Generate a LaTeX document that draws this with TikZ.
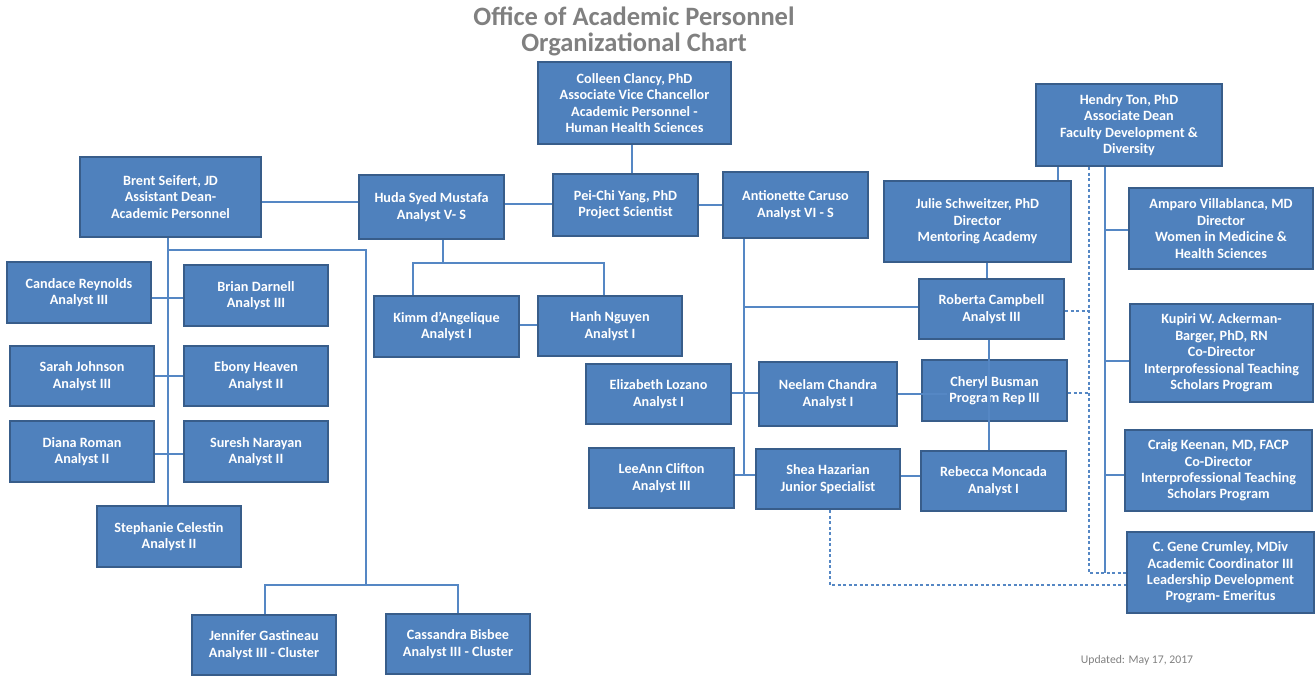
\documentclass[tikz,border=0pt]{standalone}
\usepackage{fontspec}
\setmainfont{Carlito}
\usetikzlibrary{backgrounds}
\definecolor{boxfill}{HTML}{4F81BD}
\definecolor{boxline}{HTML}{385D8A}
\definecolor{conncol}{HTML}{5587C4}
\definecolor{titlegray}{HTML}{808080}
\tikzset{
  box/.style={draw=boxline, line width=2.2pt, fill=boxfill, text=white,
    font=\bfseries\fontsize{14.2}{16.4}\selectfont, align=center, inner sep=0pt, rectangle},
  conn/.style={draw=conncol, line width=1.2pt},
  dconn/.style={conn, dash pattern=on 3pt off 2.5pt},
  titletext/.style={text=titlegray, font=\bfseries\fontsize{26.5}{30}\selectfont, inner sep=0pt},
  foottext/.style={text=titlegray, font=\fontsize{11.7}{14}\selectfont, inner sep=0pt},
}
\newcommand\ocbox[6]{\node[box, minimum width=#4pt, minimum height=#5pt] (#1) at (#2,#3) {#6};}
\begin{document}
\begin{tikzpicture}[x=1pt,y=-1pt]
\useasboundingbox (0,0) rectangle (1315,676);
\node[titletext] (t1) at (634,16) {Office of Academic Personnel};
\node[titletext] (t2) at (634,44) {Organizational Chart};
\node[foottext] (upd) at (1137,660) {Updated: May 17, 2017};

\ocbox{colleen}{634.5}{103}{193}{82}{Colleen Clancy, PhD\\Associate Vice Chancellor\\Academic Personnel -\\Human Health Sciences}
\ocbox{hendry}{1129}{125}{186}{82}{Hendry Ton, PhD\\Associate Dean\\Faculty Development \&\\Diversity}
\ocbox{brent}{170.5}{197}{181}{80}{Brent Seifert, JD\\Assistant Dean-\\Academic Personnel}
\ocbox{huda}{431.5}{207}{145}{64}{Huda Syed Mustafa\\Analyst V- S}
\ocbox{pei}{625.5}{205}{145}{62}{Pei-Chi Yang, PhD\\Project Scientist}
\ocbox{anto}{795.5}{205}{145}{66}{Antionette Caruso\\Analyst VI - S}
\ocbox{julie}{977.5}{221.5}{187}{81}{Julie Schweitzer, PhD\\Director\\Mentoring Academy}
\ocbox{amparo}{1221}{228.5}{184}{81}{Amparo Villablanca, MD\\Director\\Women in Medicine \&\\Health Sciences}
\ocbox{candace}{79}{292.5}{144}{61}{Candace Reynolds\\Analyst III}
\ocbox{brian}{256}{295.5}{144}{61}{Brian Darnell\\Analyst III}
\ocbox{kimm}{446.5}{326.5}{145}{61}{Kimm d’Angelique\\Analyst I}
\ocbox{hanh}{610}{326}{144}{60}{Hanh Nguyen\\Analyst I}
\ocbox{roberta}{991.5}{309}{145}{60}{Roberta Campbell\\Analyst III}
\ocbox{kupiri}{1221.5}{353}{183}{98}{Kupiri W. Ackerman-\\Barger, PhD, RN\\Co-Director\\Interprofessional Teaching\\Scholars Program}
\ocbox{sarah}{82}{376}{144}{60}{Sarah Johnson\\Analyst III}
\ocbox{ebony}{256}{376}{144}{60}{Ebony Heaven\\Analyst II}
\ocbox{eliz}{658.5}{394}{145}{60}{Elizabeth Lozano\\Analyst I}
\ocbox{neelam}{828}{394}{138}{64}{Neelam Chandra\\Analyst I}
\ocbox{cheryl}{994.5}{390.5}{145}{61}{Cheryl Busman\\Program Rep III}
\ocbox{diana}{82}{451.5}{144}{61}{Diana Roman\\Analyst II}
\ocbox{suresh}{256}{451.5}{144}{61}{Suresh Narayan\\Analyst II}
\ocbox{craig}{1218.5}{470.5}{187}{81}{Craig Keenan, MD, FACP\\Co-Director\\Interprofessional Teaching\\Scholars Program}
\ocbox{leeann}{661.5}{478}{145}{60}{LeeAnn Clifton\\Analyst III}
\ocbox{shea}{828}{479}{144}{60}{Shea Hazarian\\Junior Specialist}
\ocbox{rebecca}{993.5}{481}{145}{60}{Rebecca Moncada\\Analyst I}
\ocbox{steph}{169}{536.5}{144}{61}{Stephanie Celestin\\Analyst II}
\ocbox{gene}{1220.5}{572.5}{187}{81}{C. Gene Crumley, MDiv\\Academic Coordinator III\\Leadership Development\\Program- Emeritus}
\ocbox{jenn}{264}{645}{144}{60}{Jennifer Gastineau\\Analyst III - Cluster}
\ocbox{cass}{458}{644}{144}{60}{Cassandra Bisbee\\Analyst III - Cluster}

\coordinate (hj) at (443,263);
\coordinate (bs) at (168,250);
\coordinate (bj) at (366,585);
\coordinate (aj) at (744,475);
\coordinate (hv) at (1105,573);
\coordinate (hd) at (1089,573);
\coordinate (cj) at (947,394);

\begin{pgfonlayer}{background}
% centre top
\draw[conn] (colleen.south -| 632,0) -- (pei.north -| 632,0);
\draw[conn] (brent.east |- 0,202) -- (huda.west |- 0,202);
\draw[conn] (huda.east |- 0,204) -- (pei.west |- 0,204);
\draw[conn] (pei.east |- 0,205) -- (anto.west |- 0,205);
% Huda's team
\draw[conn] (huda.south -| hj) -- (hj);
\draw[conn] (kimm.north -| 413,0) |- (hj) -| (hanh.north -| 604,0);
\draw[conn] (kimm.east |- 0,325) -- (hanh.west |- 0,325);
% Brent's team
\draw[conn] (brent.south -| 168,0) -- (steph.north -| 168,0);
\draw[conn] (candace.east |- 0,298) -- (brian.west |- 0,298);
\draw[conn] (sarah.east |- 0,376) -- (ebony.west |- 0,376);
\draw[conn] (diana.east |- 0,454) -- (suresh.west |- 0,454);
\draw[conn] (bs) -| (bj);
\draw[conn] (jenn.north -| 265,0) |- (bj) -| (cass.north -| 458,0);
% Antionette's team
\draw[conn] (anto.south -| aj) -- (aj);
\draw[conn] (aj |- 0,307) -- (roberta.west |- 0,307);
\draw[conn] (eliz.east |- 0,393) -- (neelam.west |- 0,393);
\draw[conn] (leeann.east |- aj) -- (shea.west |- aj);
\draw[conn] (shea.east |- 0,476) -- (rebecca.west |- 0,476);
% Hendry's team
\draw[conn] (hendry.south -| 1058,0) -- (julie.north -| 1058,0);
\draw[conn] (julie.south -| 987,0) -- (roberta.north -| 987,0);
\draw[conn] (hendry.south -| hv) -- (hv);
\draw[conn] (hv |- 0,230) -- (amparo.west |- 0,230);
\draw[conn] (hv |- 0,361) -- (kupiri.west |- 0,361);
\draw[conn] (hv |- 0,475) -- (craig.west |- 0,475);
% dotted-line reports
\draw[dconn] (hendry.south -| hd) -- (hd) -- (gene.west |- hd);
\draw[dconn] (roberta.east |- 0,311) -- (hd |- 0,311);
\draw[dconn] (cheryl.east |- 0,393) -- (hd |- 0,393);
\draw[dconn] (shea.south -| 830,0) |- (gene.west |- 0,585);
\end{pgfonlayer}
% lines drawn over Cheryl's box
\draw[conn] (neelam.east |- cj) -- (cj);
\draw[conn] (roberta.south -| 989,0) -- (rebecca.north -| 989,0);
\end{tikzpicture}
\end{document}
